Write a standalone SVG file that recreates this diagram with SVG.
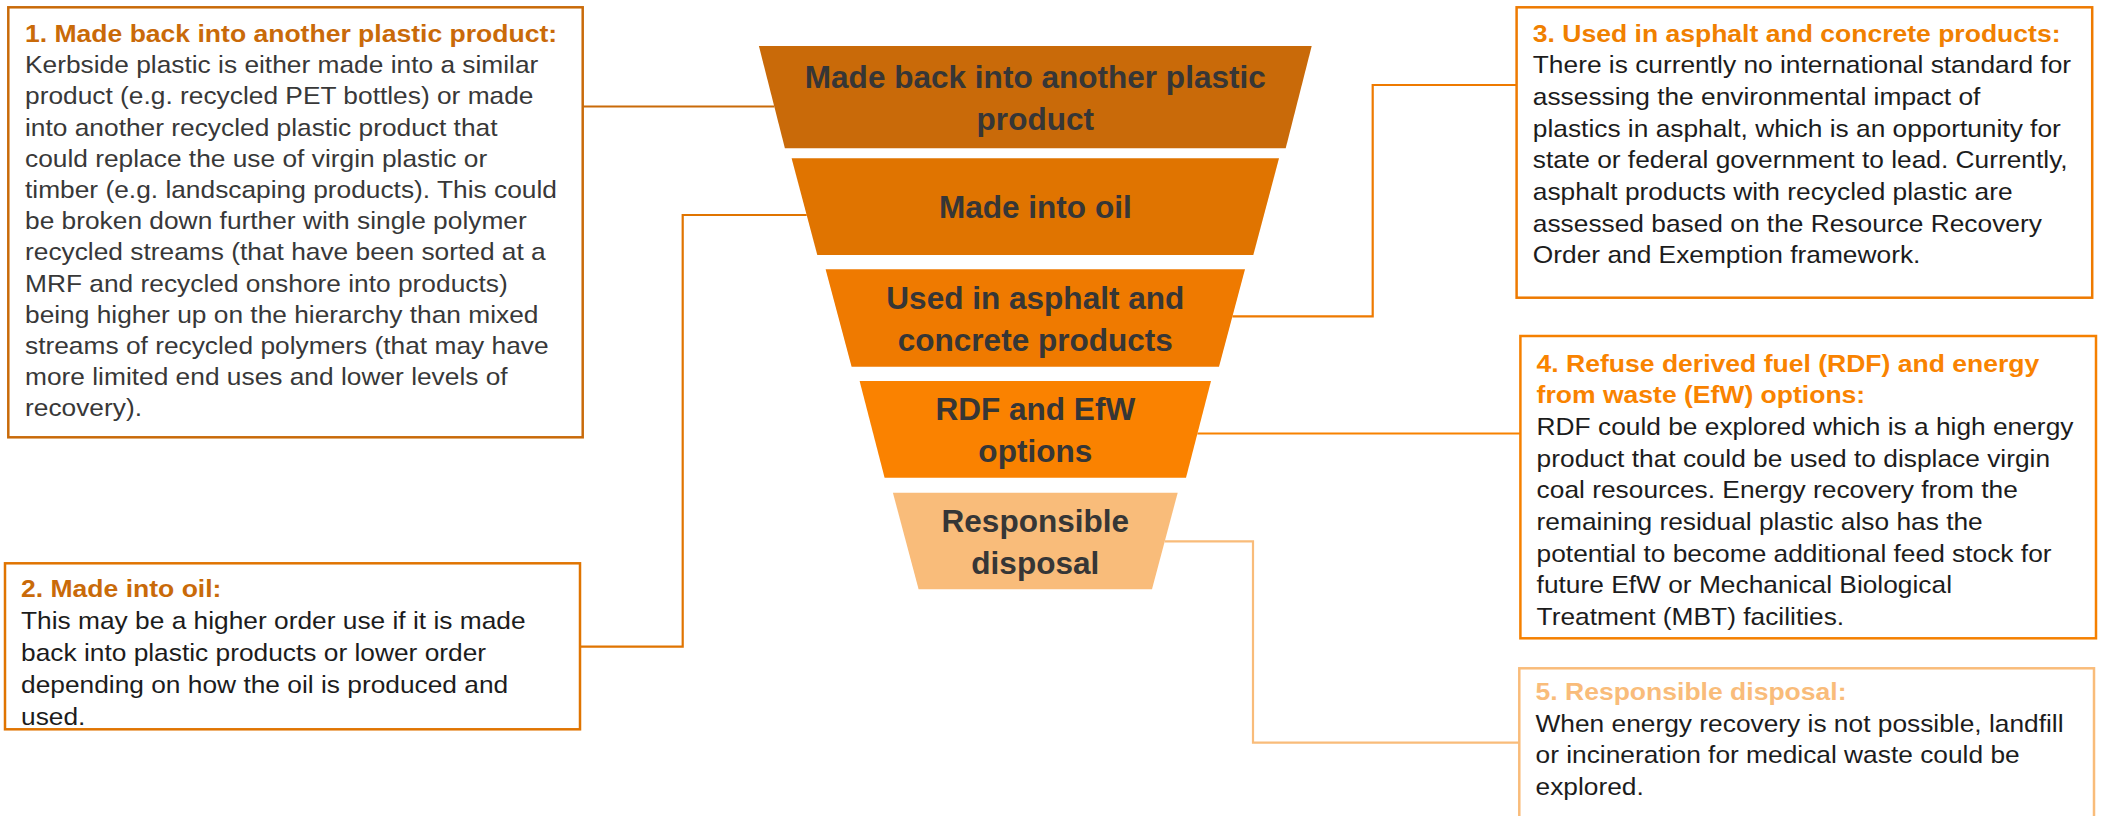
<svg xmlns="http://www.w3.org/2000/svg" width="2105" height="816" viewBox="0 0 2105 816">
  <style>
    .box { fill: #ffffff; stroke-width: 2.5; }
    .conn { fill: none; stroke-width: 2.2; }
    .title { font-family: "Liberation Sans", Arial, sans-serif; font-weight: bold; font-size: 24.8px; }
    .body { font-family: "Liberation Sans", Arial, sans-serif; font-size: 24.6px; fill: #1c1c1c; }
    .tier { font-family: "Liberation Sans", Arial, sans-serif; font-weight: bold; font-size: 30.5px; fill: #363636; text-anchor: middle; }
  </style>
  <rect width="2105" height="816" fill="#ffffff"/>

  <!-- connectors between funnel tiers and description boxes -->
  <g id="connectors">
    <polyline class="conn" stroke="#C96A09" points="583,106.5 774.3,106.5"/>
    <polyline class="conn" stroke="#E07400" points="806.7,215 682.7,215 682.7,646.7 580,646.7"/>
    <polyline class="conn" stroke="#EE7A00" points="1232.4,316.4 1372.7,316.4 1372.7,85 1517,85"/>
    <polyline class="conn" stroke="#F88200" points="1197.4,433.5 1520.4,433.5"/>
    <polyline class="conn" stroke="#F9BC7A" points="1164.7,541.4 1253,541.4 1253,742.7 1519.3,742.7"/>
  </g>

  <!-- funnel tiers -->
  <g id="tier1">
    <polygon fill="#C96A09" points="758.9,46 1311.7,46 1285.7,148.3 784.9,148.3"/>
    <text class="tier" transform="translate(1035.3 0) scale(1.035 1)"><tspan x="0" y="88">Made back into another plastic</tspan><tspan x="0" y="130">product</tspan></text>
  </g>
  <g id="tier2">
    <polygon fill="#E07400" points="791.6,158.3 1279,158.3 1253.3,255 817.3,255"/>
    <text class="tier" transform="translate(1035.3 0) scale(1.035 1)"><tspan x="0" y="218">Made into oil</tspan></text>
  </g>
  <g id="tier3">
    <polygon fill="#EF7A00" points="825.6,269.3 1245,269.3 1219,366.7 851.6,366.7"/>
    <text class="tier" transform="translate(1035.3 0) scale(1.035 1)"><tspan x="0" y="308.6">Used in asphalt and</tspan><tspan x="0" y="350.7">concrete products</tspan></text>
  </g>
  <g id="tier4">
    <polygon fill="#FA8200" points="859.6,381 1211,381 1186,477.7 884.6,477.7"/>
    <text class="tier" transform="translate(1035.3 0) scale(1.035 1)"><tspan x="0" y="420">RDF and EfW</tspan><tspan x="0" y="462">options</tspan></text>
  </g>
  <g id="tier5">
    <polygon fill="#F9BC7A" points="892.9,492.7 1177.7,492.7 1152,589.3 918.6,589.3"/>
    <text class="tier" transform="translate(1035.3 0) scale(1.035 1)"><tspan x="0" y="532.5">Responsible</tspan><tspan x="0" y="574.3">disposal</tspan></text>
  </g>

  <!-- description boxes -->
  <g id="box1">
    <rect class="box" stroke="#C96A09" x="8.3" y="7.3" width="574.4" height="430"/>
    <text class="title" fill="#C96A09" transform="translate(25 0) scale(1.07 1)"><tspan x="0" y="41.7">1. Made back into another plastic product:</tspan></text>
    <text class="body" style="fill:#383838" transform="translate(25 0) scale(1.07 1)">
      <tspan x="0" y="73.3">Kerbside plastic is either made into a similar</tspan>
      <tspan x="0" y="104.5">product (e.g. recycled PET bottles) or made</tspan>
      <tspan x="0" y="135.7">into another recycled plastic product that</tspan>
      <tspan x="0" y="166.9">could replace the use of virgin plastic or</tspan>
      <tspan x="0" y="198.1">timber (e.g. landscaping products). This could</tspan>
      <tspan x="0" y="229.3">be broken down further with single polymer</tspan>
      <tspan x="0" y="260.5">recycled streams (that have been sorted at a</tspan>
      <tspan x="0" y="291.7">MRF and recycled onshore into products)</tspan>
      <tspan x="0" y="322.9">being higher up on the hierarchy than mixed</tspan>
      <tspan x="0" y="354.1">streams of recycled polymers (that may have</tspan>
      <tspan x="0" y="385.3">more limited end uses and lower levels of</tspan>
      <tspan x="0" y="416.5">recovery).</tspan>
    </text>
  </g>

  <g id="box2">
    <rect class="box" stroke="#E07400" x="5" y="563.3" width="575" height="166"/>
    <text class="title" fill="#C96A09" transform="translate(21 0) scale(1.07 1)"><tspan x="0" y="597.3">2. Made into oil:</tspan></text>
    <text class="body" transform="translate(21 0) scale(1.07 1)">
      <tspan x="0" y="629.3">This may be a higher order use if it is made</tspan>
      <tspan x="0" y="661.2">back into plastic products or lower order</tspan>
      <tspan x="0" y="693.1">depending on how the oil is produced and</tspan>
      <tspan x="0" y="725">used.</tspan>
    </text>
  </g>

  <g id="box3">
    <rect class="box" stroke="#EE7A00" x="1516.6" y="7.3" width="575.6" height="290.4"/>
    <text class="title" fill="#F08000" transform="translate(1532.8 0) scale(1.07 1)"><tspan x="0" y="41.7">3. Used in asphalt and concrete products:</tspan></text>
    <text class="body" transform="translate(1532.8 0) scale(1.07 1)">
      <tspan x="0" y="73.3">There is currently no international standard for</tspan>
      <tspan x="0" y="105">assessing the environmental impact of</tspan>
      <tspan x="0" y="136.7">plastics in asphalt, which is an opportunity for</tspan>
      <tspan x="0" y="168.3">state or federal government to lead. Currently,</tspan>
      <tspan x="0" y="200">asphalt products with recycled plastic are</tspan>
      <tspan x="0" y="231.7">assessed based on the Resource Recovery</tspan>
      <tspan x="0" y="263.3">Order and Exemption framework.</tspan>
    </text>
  </g>

  <g id="box4">
    <rect class="box" stroke="#F58000" x="1520.4" y="336" width="575.6" height="302.3"/>
    <text class="title" fill="#F98300" transform="translate(1536.6 0) scale(1.07 1)"><tspan x="0" y="371.7">4. Refuse derived fuel (RDF) and energy</tspan><tspan x="0" y="402.7">from waste (EfW) options:</tspan></text>
    <text class="body" transform="translate(1536.6 0) scale(1.07 1)">
      <tspan x="0" y="435">RDF could be explored which is a high energy</tspan>
      <tspan x="0" y="466.7">product that could be used to displace virgin</tspan>
      <tspan x="0" y="498.3">coal resources. Energy recovery from the</tspan>
      <tspan x="0" y="530">remaining residual plastic also has the</tspan>
      <tspan x="0" y="561.7">potential to become additional feed stock for</tspan>
      <tspan x="0" y="593.3">future EfW or Mechanical Biological</tspan>
      <tspan x="0" y="625">Treatment (MBT) facilities.</tspan>
    </text>
  </g>

  <g id="box5">
    <rect class="box" stroke="#F9BC7A" x="1519.3" y="668.3" width="574.7" height="160"/>
    <text class="title" fill="#F9BC7A" transform="translate(1535.5 0) scale(1.07 1)"><tspan x="0" y="700">5. Responsible disposal:</tspan></text>
    <text class="body" transform="translate(1535.5 0) scale(1.07 1)">
      <tspan x="0" y="731.7">When energy recovery is not possible, landfill</tspan>
      <tspan x="0" y="763.3">or incineration for medical waste could be</tspan>
      <tspan x="0" y="795">explored.</tspan>
    </text>
  </g>
</svg>
